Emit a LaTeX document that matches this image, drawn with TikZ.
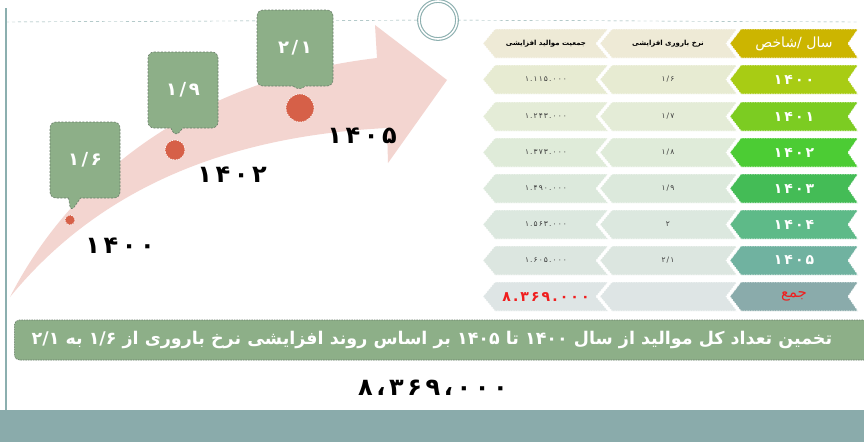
\documentclass[tikz,border=0pt]{standalone}
\usepackage{fontspec}
\usetikzlibrary{calc,shapes.callouts}
\TeXXeTstate=1
\newfontfamily\fa[Script=Arabic]{DejaVu Sans}
\newfontfamily\fanum[Script=Arabic,LetterSpace=15]{DejaVu Sans}

\definecolor{vertbulle}{RGB}{141,175,136}
\definecolor{bordbulle}{RGB}{105,125,105}
\definecolor{rosefleche}{RGB}{243,213,208}
\definecolor{orangepoint}{RGB}{214,96,72}
\definecolor{sarcelle}{RGB}{138,171,171}
\definecolor{trait}{RGB}{140,175,175}
\definecolor{rouge}{RGB}{240,30,30}
\definecolor{gristexte}{RGB}{60,60,60}
\definecolor{an0}{RGB}{204,181,0}
\definecolor{an1}{RGB}{168,204,20}
\definecolor{an2}{RGB}{124,204,34}
\definecolor{an3}{RGB}{76,204,52}
\definecolor{an4}{RGB}{68,188,86}
\definecolor{an5}{RGB}{94,186,136}
\definecolor{an6}{RGB}{112,178,160}
\definecolor{an7}{RGB}{138,171,171}
\definecolor{ce0}{RGB}{238,234,214}
\definecolor{ce1}{RGB}{231,235,210}
\definecolor{ce2}{RGB}{228,236,215}
\definecolor{ce3}{RGB}{223,235,217}
\definecolor{ce4}{RGB}{220,233,220}
\definecolor{ce5}{RGB}{220,232,223}
\definecolor{ce6}{RGB}{220,230,224}
\definecolor{ce7}{RGB}{222,229,229}

\tikzstyle{bulle} = [rectangle callout, rounded corners=6pt, fill=vertbulle, draw=bordbulle, dash pattern=on 2pt off 1.5pt, line width=0.6pt, minimum width=70pt, minimum height=76pt, callout pointer width=12pt, callout pointer shorten=3pt, text=white, font=\fanum\bfseries\fontsize{18}{20}\selectfont]
\tikzstyle{point} = [circle, fill=orangepoint, draw=white, dash pattern=on 1.5pt off 1pt, line width=0.6pt, inner sep=0pt]
\tikzstyle{annee} = [text=black, font=\fanum\bfseries\fontsize{24}{26}\selectfont]
\tikzstyle{cadre} = [draw=white, dash pattern=on 1.5pt off 1pt, line width=0.7pt]

\newcommand{\an}{\fanum\bfseries\fontsize{14}{16}\selectfont\color{white}}
\newcommand{\taux}{\fanum\fontsize{7.5}{9}\selectfont\color{gristexte}}
\newcommand{\pop}{\fanum\fontsize{7.5}{9}\selectfont\color{gristexte}}

% une ligne du tableau : nom, haut, fond cellules, fond annee, annee, taux, population
\newcommand{\rangee}[7]{%
  \begin{scope}[shift={(0,#2)}]
    \path[fill=#3, cadre] (495,0) -- (608,0) -- (596,14.5) -- (608,29) -- (495,29) -- (483,14.5) -- cycle;
    \path[fill=#3, cadre] (612,0) -- (737,0) -- (726,14.5) -- (737,29) -- (612,29) -- (600,14.5) -- cycle;
    \path[fill=#4, cadre] (741,0) -- (858,0) -- (848,14.5) -- (858,29) -- (741,29) -- (730,14.5) -- cycle;
    \node (#1p) at (546,14.5) {#7};
    \node (#1t) at (668,14.5) {#6};
    \node (#1a) at (794,14.5) {#5};
  \end{scope}}

\begin{document}
\begin{tikzpicture}[x=1pt,y=-1pt]

        \useasboundingbox (0,0) rectangle (864,442);
        \fill[white] (0,0) rectangle (864,442);

        % cadre
        \draw[trait, line width=1.2pt] (6,8) -- (6,410);
        \fill[sarcelle] (0,410) rectangle (864,442);
        \node (anneau) [circle, draw=trait, double=white, double distance=1.6pt, line width=1.1pt, minimum size=38pt] at (438,20) {};
        \coordinate (gauche) at (6,22);
        \coordinate (droite) at (858,22);
        \draw[trait, dashed] (gauche) -- (anneau);
        \draw[trait, dashed] (anneau) -- (droite);

        % fleche
        \fill[rosefleche] (10,297) .. controls (70,180) and (190,80) .. (377,58) -- (375,25) -- (447,80) -- (388,163) -- (387,128) .. controls (250,135) and (110,175) .. (10,297) -- cycle;

        \node (d1) [point, minimum size=10pt] at (70,220) {};
        \node (d2) [point, minimum size=20pt] at (175,150) {};
        \node (d3) [point, minimum size=28pt] at (300,108) {};

        \node (b1) [bulle, callout absolute pointer={(d1.north)}] at (85,160) {۱/۶};
        \node (b2) [bulle, callout absolute pointer={(d2.north)}] at (183,90) {۱/۹};
        \node (b3) [bulle, minimum width=76pt, callout absolute pointer={(d3.north)}] at (295,48) {۲/۱};

        \node (l1) [annee] at (120,246) {۱۴۰۰};
        \node (l2) [annee] at (232,175) {۱۴۰۲};
        \node (l3) [annee] at (362,136) {۱۴۰۵};

        % tableau
        \rangee{h}{29}{ce0}{an0}{\fa\fontsize{14}{16}\selectfont\color{white}\beginR سال /شاخص\endR}{\fa\bfseries\fontsize{7}{8}\selectfont\beginR نرخ باروری افزایشی\endR}{\fa\bfseries\fontsize{7}{8}\selectfont\beginR جمعیت موالید افزایشی\endR}
        \rangee{r0}{65}{ce1}{an1}{\an ۱۴۰۰}{\taux ۱/۶}{\pop ۱.۱۱۵.۰۰۰}
        \rangee{r1}{102}{ce2}{an2}{\an ۱۴۰۱}{\taux ۱/۷}{\pop ۱.۲۴۳.۰۰۰}
        \rangee{r2}{138}{ce3}{an3}{\an ۱۴۰۲}{\taux ۱/۸}{\pop ۱.۳۷۳.۰۰۰}
        \rangee{r3}{174}{ce4}{an4}{\an ۱۴۰۳}{\taux ۱/۹}{\pop ۱.۴۹۰.۰۰۰}
        \rangee{r4}{210}{ce5}{an5}{\an ۱۴۰۴}{\taux ۲}{\pop ۱.۵۶۳.۰۰۰}
        \rangee{r5}{246}{ce6}{an6}{\an ۱۴۰۵}{\taux ۲/۱}{\pop ۱.۶۰۵.۰۰۰}
        \rangee{s}{282}{ce7}{an7}{\fa\fontsize{15}{17}\selectfont\color{rouge}\beginR جمع\endR}{}{\fanum\bfseries\fontsize{14}{16}\selectfont\color{rouge}۸.۳۶۹.۰۰۰}

        % bandeau
        \node (bandeau) [rectangle, rounded corners=5pt, fill=vertbulle, draw=bordbulle, dash pattern=on 1.5pt off 1pt, line width=0.6pt, minimum width=866pt, minimum height=40pt, anchor=west] at (14,340) {};
        \node (phrase) [text=white, font=\fa\bfseries\fontsize{17.5}{19}\selectfont] at (432,340) {\beginR تخمین تعداد کل موالید از سال \beginL ۱۴۰۰\endL{} تا \beginL ۱۴۰۵\endL{} بر اساس روند افزایشی نرخ باروری از \beginL ۱/۶\endL{} به \beginL ۲/۱\endL\endR};
        \node (total) [font=\fanum\bfseries\fontsize{24}{26}\selectfont] at (433,388) {۸،۳۶۹،۰۰۰};

    \end{tikzpicture}
\end{document}
